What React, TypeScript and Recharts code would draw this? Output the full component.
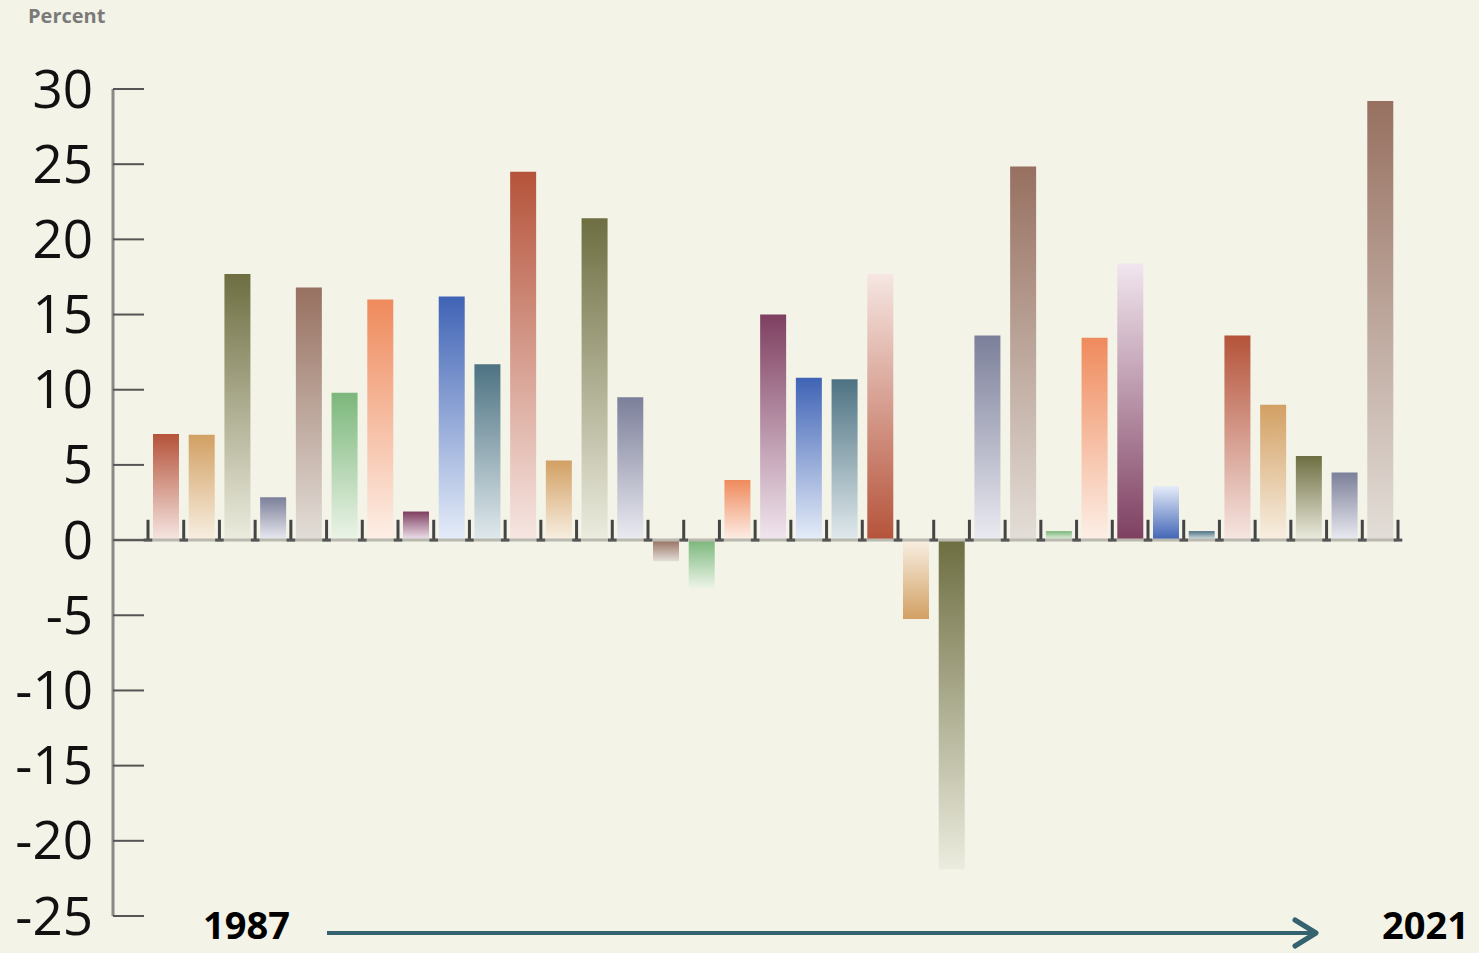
import React from 'react';
import { BarChart, Bar, XAxis, YAxis, Cell, ReferenceLine } from 'recharts';

const YEARS = [
  1987, 1988, 1989, 1990, 1991, 1992, 1993, 1994, 1995, 1996,
  1997, 1998, 1999, 2000, 2001, 2002, 2003, 2004, 2005, 2006,
  2007, 2008, 2009, 2010, 2011, 2012, 2013, 2014, 2015, 2016,
  2017, 2018, 2019, 2020, 2021,
];

const GROWTH = [
  7.05, 7.0, 17.7, 2.85, 16.8, 9.8, 16.0, 1.9, 16.2, 11.7,
  24.5, 5.3, 21.4, 9.5, -1.4, -3.2, 4.0, 15.0, 10.8, 10.7,
  17.7, -5.25, -21.9, 13.6, 24.85, 0.6, 13.45, 18.4, 3.6, 0.6,
  13.6, 9.0, 5.6, 4.5, 29.2,
];

// cycle of ten hues, strong end of each bar
const TOP_COLORS = ['#b5533a', '#d2a063', '#6e6e42', '#7b7f99', '#977060', '#7bb77b', '#ef8a5c', '#7e3f60', '#3f63b5', '#4d7282'];
// pale end of each bar
const FADE_COLORS = ['#f6e6e2', '#f8efe2', '#ececdf', '#ebebf2', '#e3ded8', '#ecf4e8', '#fdefe7', '#f1e6ef', '#e6edf9', '#e1eaed'];

// years where the gradient runs pale-to-strong from top to bottom
const REVERSED_YEARS = [2007, 2008, 2014, 2015];

const Y_TICKS = [-25, -20, -15, -10, -5, 0, 5, 10, 15, 20, 25, 30];
const BOUNDARIES = Array.from({ length: YEARS.length + 1 }, (_, i) => i);

const rows = YEARS.map((year, i) => ({ year: String(year), value: GROWTH[i], idx: i + 0.5 }));

const YTick = (props: any) => {
  const { x, y, payload } = props;
  return (
    <g>
      <line x1={x} x2={x + 31} y1={y} y2={y} stroke="#555" strokeWidth={2} />
      <text
        x={x - 20}
        y={y}
        dy={-2}
        textAnchor="end"
        dominantBaseline="central"
        fill="#111"
        fontSize={53}
        fontFamily="'Open Sans', sans-serif"
      >
        {payload.value}
      </text>
    </g>
  );
};

export default function App() {
  return (
    <div style={{ position: 'absolute', left: 0, top: 0, width: 1479, height: 953, background: '#f3f3e7', overflow: 'hidden' }}>
      <BarChart
        width={1479}
        height={953}
        data={rows}
        margin={{ top: 89, right: 81, bottom: 37, left: 0 }}
      >
        <defs>
          {YEARS.map((year, i) => {
            const rev = REVERSED_YEARS.includes(year);
            const top = TOP_COLORS[i % 10];
            const fade = FADE_COLORS[i % 10];
            return (
              <linearGradient key={year} id={`g${i}`} x1="0" y1="0" x2="0" y2="1">
                <stop offset="0%" stopColor={rev ? fade : top} />
                <stop offset="100%" stopColor={rev ? top : fade} />
              </linearGradient>
            );
          })}
        </defs>
        <XAxis dataKey="year" hide padding={{ left: 35, right: 0 }} />
        <XAxis xAxisId="b" dataKey="idx" type="number" domain={[0, 35]} allowDataOverflow hide padding={{ left: 35, right: 0 }} />
        <YAxis
          type="number"
          domain={[-25, 30]}
          ticks={Y_TICKS}
          interval={0}
          width={113}
          tickSize={0}
          tickMargin={0}
          tickLine={false}
          axisLine={{ stroke: '#8a8a86', strokeWidth: 3 }}
          tick={<YTick />}
        />
        <ReferenceLine y={0} stroke="#b9b9b0" strokeWidth={3} />
        <Bar dataKey="value" barSize={26} isAnimationActive={false}>
          {rows.map((_, i) => (
            <Cell key={i} fill={`url(#g${i})`} />
          ))}
        </Bar>
        {BOUNDARIES.map((b) => (
          <ReferenceLine
            key={`t${b}`}
            xAxisId="b"
            segment={[{ x: b, y: 0 }, { x: b, y: 1.35 }]}
            stroke="#444"
            strokeWidth={3}
            ifOverflow="visible"
          />
        ))}
        {BOUNDARIES.map((b) => (
          <ReferenceLine
            key={`f${b}`}
            xAxisId="b"
            segment={[{ x: b - 0.12, y: 0 }, { x: b + 0.12, y: 0 }]}
            stroke="#555"
            strokeWidth={3}
            ifOverflow="visible"
          />
        ))}
      </BarChart>
      <svg width={1479} height={953} style={{ position: 'absolute', left: 0, top: 0, pointerEvents: 'none' }}>
        <text x={28} y={23} fontSize={20} fontWeight={700} fill="#7a7a7a" fontFamily="'Open Sans', sans-serif">Percent</text>
        <text x={203} y={939} fontSize={38} fontWeight={700} fill="#000" fontFamily="'Open Sans', sans-serif">1987</text>
        <text x={1382} y={939} fontSize={38} fontWeight={700} fill="#000" fontFamily="'Open Sans', sans-serif">2021</text>
        <line x1={327} x2={1314} y1={933} y2={933} stroke="#35626f" strokeWidth={4} />
        <polyline points="1295,920 1316,933 1295,946" fill="none" stroke="#35626f" strokeWidth={5} strokeLinecap="round" strokeLinejoin="round" />
      </svg>
    </div>
  );
}
